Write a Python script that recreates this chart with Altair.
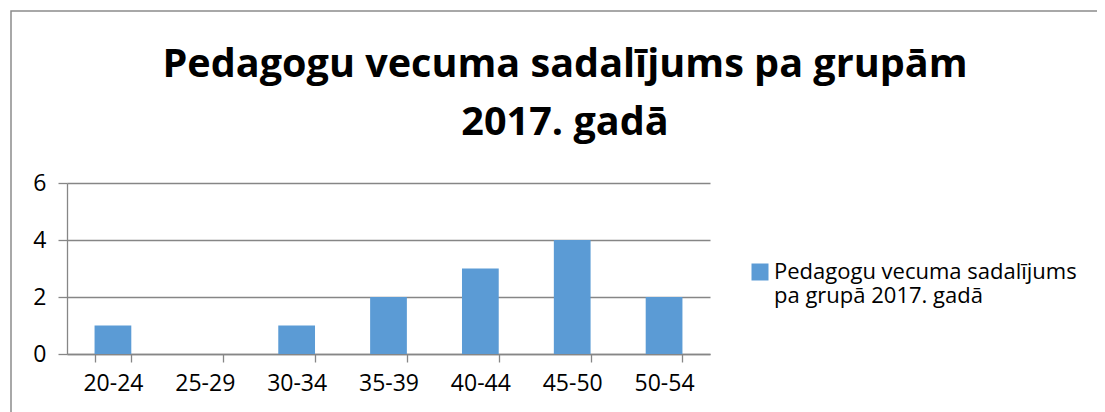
import altair as alt
import pandas as pd

categories = ["20-24", "25-29", "30-34", "35-39", "40-44", "45-50", "50-54"]
values = [1, 0, 1, 2, 3, 4, 2]
series_name = "Pedagogu vecuma sadalījums pa grupā 2017. gadā"
title_lines = ["Pedagogu vecuma sadalījums pa grupām", "2017. gadā"]
y_ticks = [0, 2, 4, 6]

df = pd.DataFrame({"group": categories, "value": values, "series": [series_name] * len(categories)})

FONT = "Open Sans"
GRAY = "#868686"

bars = alt.Chart(df).mark_bar(color="#5B9BD5").encode(
    x=alt.X("group:N", sort=categories, title=None,
            scale=alt.Scale(paddingInner=0.6, paddingOuter=0.3),
            axis=alt.Axis(labelAngle=0, tickBand="extent", grid=False, tickSize=8,
                          domainColor=GRAY, tickColor=GRAY, labelFontSize=23, labelFont=FONT,
                          labelColor="#000000", labelPadding=10, domainWidth=1.3, tickWidth=1.3)),
    y=alt.Y("value:Q", title=None, scale=alt.Scale(domain=[0, 6], nice=False),
            axis=alt.Axis(values=y_ticks, tickSize=9, grid=True, gridColor=GRAY, domainColor=GRAY,
                          tickColor=GRAY, labelFontSize=23, labelFont=FONT, labelColor="#000000",
                          labelPadding=12, domainWidth=1.3, tickWidth=1.3, gridWidth=1.3)),
    color=alt.Color("series:N", scale=alt.Scale(range=["#5B9BD5"]),
                    legend=alt.Legend(title=None, orient="none", legendX=682, legendY=78,
                                      symbolType="square", symbolSize=289, symbolStrokeWidth=0,
                                      labelFontSize=22, labelFont=FONT, labelColor="#000000",
                                      labelLimit=500, labelOffset=3,
                                      labelExpr="['Pedagogu vecuma sadalījums', 'pa grupā 2017. gadā']")),
)

frame = alt.Chart(alt.Data(values=[{}])).mark_rect(fill=None, stroke="#8c8c8c", strokeWidth=1.5).encode(
    x=alt.value(-56), y=alt.value(-172), x2=alt.value(1200), y2=alt.value(500)
)

title = alt.Chart(alt.Data(values=[{}])).mark_text(
    font=FONT, fontSize=39.6, fontWeight="bold", color="#000000", align="center",
    baseline="alphabetic", lineHeight=58
).encode(x=alt.value(498), y=alt.value(-106), text=alt.value(title_lines))

chart = alt.layer(frame, title, bars).properties(
    width=643, height=171,
    autosize=alt.AutoSizeParams(type="none"),
    padding={"left": 59, "top": 175, "right": 387, "bottom": 58},
).configure_view(stroke=None)

chart.save("out.html", embed_options={"renderer": "svg", "actions": False})
